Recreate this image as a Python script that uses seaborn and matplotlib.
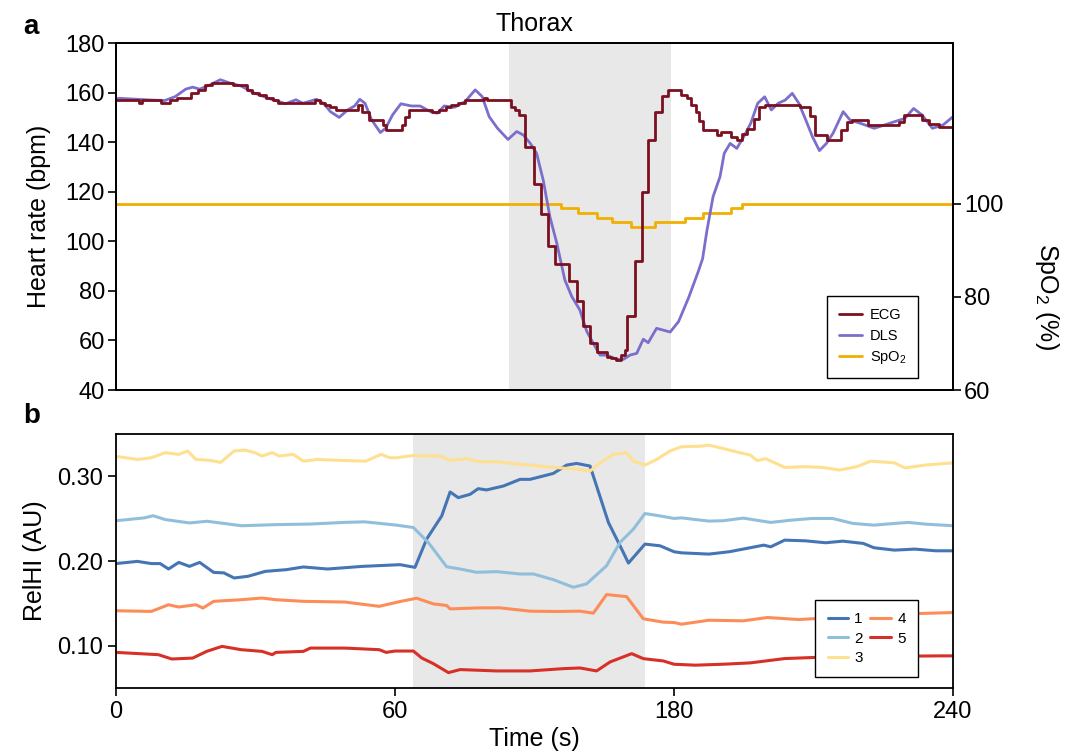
import seaborn as sns
import matplotlib.pyplot as plt
import numpy as np
import pandas as pd

sns.set_theme(style="ticks")
plt.rcParams['font.family'] = ['Liberation Sans', 'DejaVu Sans']
plt.rcParams['mathtext.fontset'] = 'custom'
plt.rcParams['mathtext.rm'] = 'Liberation Sans'
plt.rcParams['mathtext.it'] = 'Liberation Sans:italic'
plt.rcParams['mathtext.bf'] = 'Liberation Sans:bold'
for k in ['text.color', 'axes.labelcolor', 'xtick.color', 'ytick.color']:
    plt.rcParams[k] = 'black'

# ---- panel a: heart rate (thorax) ----
ecg_t = [0, 6.5, 7.5, 13, 15.5, 17.5, 21.5, 23.5, 25.5, 27.5, 33.5, 37.5, 39, 41, 43, 45,
         46.5, 57, 58.5, 60, 61.5, 63, 69.5, 70.5, 72.5, 76.5, 77.5, 82, 83, 84, 90.5, 92.5,
         94.5, 96, 98, 100, 105.5, 106.5, 113.2, 114.5, 115.5, 117.2, 119.8, 121.8, 124, 126,
         130, 132.2, 134, 136, 137.8, 140.8, 142, 143.5, 144.8, 146, 146.6, 148.9, 150.9,
         152.6, 154.6, 156.5, 158.4, 162, 163.8, 165, 166.2, 167.3, 168.2, 172.3, 173.6,
         176.3, 178, 179.5, 181, 182.8, 184.5, 186, 196, 199, 200.5, 204, 208, 209.5, 211,
         215.6, 224.5, 226, 231, 233, 236, 240]
ecg_hr = [157, 156, 157, 156, 157, 158, 160, 161, 163, 164, 163, 161, 160, 159, 158, 157,
          156, 157, 156, 155, 154, 153, 155, 152, 149, 147, 145, 147, 150, 153, 152, 153,
          154, 155, 156, 157, 158, 157, 154, 153, 151, 138, 123, 111, 98, 91,
          84, 76, 66, 59, 55.5, 53.5, 52.8, 52, 54, 56, 70, 92, 120,
          141, 152, 158.5, 161, 159, 158, 155, 152, 148.5, 145, 143, 144,
          142, 141, 143.5, 145.5, 149.5, 154, 155, 154, 150.5, 143, 141, 145, 148, 149,
          147, 148, 151, 149, 147.5, 146, 146]

dls_t = [0, 1, 6.1, 10.1, 14, 17, 20, 22, 24, 26.9, 29.9, 32.8, 35.8, 39.7, 43.7, 46.7,
         48.6, 51.6, 53.6, 57.5, 59.5, 61.5, 64, 66.4, 68.4, 69.9, 71.4, 73.3, 75.8, 77.3,
         79.3, 81.7, 84.7, 87.2, 90.2, 92.1, 94.1, 97.1, 100.1, 103, 105, 107, 109.4, 112.4,
         114.9, 116.8, 118.8, 120.6, 122.5, 124.4, 126.4, 128.7, 130.7, 133, 135, 137.4,
         138.8, 140.7, 143.6, 145.5, 147.4, 149.3, 151.2, 152.6, 155, 158.9, 161.3, 164.2,
         167, 168.2, 169.4, 171.2, 173.2, 174.4, 176.1, 178, 180, 182, 184, 186, 187.9,
         189.9, 191.9, 193.9, 195.8, 197.8, 199.7, 201.7, 203.7, 205.6, 208.5, 210.5, 213.5,
         217.4, 220.3, 223.3, 226.2, 228.7, 231.1, 234.1, 237.1, 240]
dls_hr = [157.5, 157.7, 157.3, 157, 156.8, 158.4, 161.4, 162.2, 161.4, 163.1, 165.2, 163.8,
          162.7, 159.8, 157.7, 156.4, 155.5, 157.1, 155.7, 157.3, 155.7, 152.3, 150, 153,
          154.6, 157.3, 155.7, 149, 143.9, 145.6, 151, 155.5, 154.6, 154.6, 152.3, 151.7,
          154.6, 154.1, 156.4, 161.1, 158.4, 150.3, 145.6, 141.1, 144.3, 142.9, 139.5,
          135.5, 124.7, 110, 99.2, 84.4, 77.7, 72.3, 63.6, 57.5, 54.1, 54.1, 52.4, 52.4,
          54.1, 54.8, 60.5, 59.1, 64.9, 63.4, 67.6, 77.3, 88, 93, 104, 118, 126.1, 135.5,
          139.5, 137.5, 142.2, 147.6, 155.7, 158.3, 153, 155.7, 157, 159.7, 155.7, 148.9,
          142.2, 136.6, 139.5, 143.6, 152.3, 148.9, 147.6, 145.6, 146.9, 148.3, 149.6,
          153.6, 151, 145.6, 146.9, 150.3]

spo2_t = [0, 127.5, 132.5, 137.8, 142.1, 147.8, 154.5, 163.1, 168.4, 176.3, 179.6, 240]
spo2_v = [100, 99, 98, 97, 96, 95, 96, 97, 98, 99, 100, 100]

shade_a = (112.8, 159.0)

# ---- panel b: RelHI per channel ----
t1 = [0, 4.6, 7.6, 9.5, 11.3, 13.5, 15.8, 18, 21, 23.2, 25.4, 28.4, 32.1, 36.6, 40.3, 45.5,
      53, 58.2, 62.2, 68.6, 73.6, 80.1, 83.7, 87.2, 92.3, 95.8, 99.4, 106.6, 113.8, 118.1,
      128.1, 133.8, 138.1, 143.9, 146.7, 151.8, 156.8, 160.4, 167.5, 174, 180, 181.6, 187.5,
      191.9, 195.6, 199.3, 200.8, 203.8, 208.2, 212.6, 216.3, 220.7, 223, 227.4, 231.8,
      236.3, 240]
v1 = [0.197, 0.1996, 0.197, 0.197, 0.1906, 0.1984, 0.1937, 0.1984, 0.1866, 0.186, 0.180,
      0.182, 0.1878, 0.1898, 0.193, 0.1906, 0.1937, 0.195, 0.1957, 0.1925, 0.2259, 0.2533,
      0.2816, 0.2749, 0.2788, 0.2855, 0.284, 0.2886, 0.2965, 0.2965, 0.3035, 0.3133, 0.3153,
      0.3122, 0.2886, 0.2455, 0.218, 0.1976, 0.22, 0.218, 0.211, 0.2097, 0.2082, 0.211,
      0.2149, 0.2188, 0.2168, 0.2247, 0.2239, 0.2216, 0.2235, 0.2208, 0.2157, 0.2129,
      0.2141, 0.2121, 0.2121]

t2 = [0, 6.1, 8, 10.6, 15.8, 19.6, 27, 34.4, 41.8, 49.3, 53.5, 60.7, 67.9, 74.3, 82.2, 88,
      95.1, 103.7, 113.8, 119.5, 128.1, 136.7, 142.4, 151, 156.8, 162.5, 167.5, 174, 180,
      181.6, 184.6, 187.5, 190.5, 194.9, 200.8, 205.2, 209.7, 214.1, 218.5, 223, 227.4,
      230.4, 234.1, 240]
v2 = [0.2476, 0.251, 0.2535, 0.249, 0.245, 0.247, 0.2417, 0.243, 0.2437, 0.2457, 0.2463,
      0.2424, 0.2396, 0.222, 0.1933, 0.1906, 0.1867, 0.1875, 0.1847, 0.1847, 0.178, 0.169,
      0.173, 0.1945, 0.222, 0.2376, 0.2561, 0.2533, 0.2503, 0.251, 0.249, 0.2472, 0.2476,
      0.2507, 0.2456, 0.2483, 0.2503, 0.2503, 0.2444, 0.2424, 0.2444, 0.2456, 0.2436, 0.2417]

t3 = [0, 4.6, 7.6, 10.6, 13.5, 15.4, 17.2, 20.2, 22.5, 25.4, 27.7, 29.9, 31.4, 33.6, 35.1,
      38.1, 40.3, 43.3, 47.7, 53.7, 57, 58.9, 60.7, 67.9, 79.4, 83.7, 90.8, 96.6, 103.7,
      110.9, 118.1, 125.2, 133.8, 139.6, 143.9, 148.2, 153.9, 159.6, 162.5, 167.5, 172.5,
      178.3, 181.6, 186, 187.5, 190.5, 193.4, 196.4, 197.9, 199.7, 203.8, 208.2, 211.9,
      215.6, 219.3, 222.3, 227.4, 229.7, 234.1, 240]
v3 = [0.3236, 0.320, 0.322, 0.328, 0.326, 0.330, 0.320, 0.319, 0.3165, 0.330, 0.331, 0.328,
      0.324, 0.328, 0.324, 0.326, 0.318, 0.320, 0.319, 0.318, 0.326, 0.322, 0.322, 0.3247,
      0.324, 0.319, 0.3208, 0.3173, 0.3173, 0.315, 0.3133, 0.3114, 0.3094, 0.3082, 0.3063,
      0.316, 0.326, 0.3278, 0.318, 0.3133, 0.320, 0.330, 0.335, 0.3358, 0.337, 0.333,
      0.329, 0.3252, 0.3185, 0.321, 0.3106, 0.3114, 0.3106, 0.3075, 0.3114, 0.318, 0.316,
      0.310, 0.3134, 0.316]

t4 = [0, 7.6, 11.3, 13.5, 17.2, 18.7, 21, 26.9, 31.4, 34.4, 40.3, 49.2, 56.6, 62.2, 69.3,
      76.5, 82.2, 83.7, 96.6, 105.2, 118.1, 129.5, 139.6, 145.3, 151, 159.6, 166.8, 175.4,
      180, 181.6, 187.5, 194.9, 200.1, 206.8, 213.4, 220, 226, 237.8, 240]
v4 = [0.1413, 0.1405, 0.1484, 0.1457, 0.1484, 0.1445, 0.1524, 0.1543, 0.1563, 0.1543,
      0.1524, 0.1516, 0.1465, 0.1522, 0.1561, 0.1494, 0.1475, 0.1435, 0.1447, 0.1447,
      0.1408, 0.1404, 0.1408, 0.1384, 0.1604, 0.158, 0.1318, 0.1278, 0.1274, 0.1254,
      0.1301, 0.1294, 0.1333, 0.1309, 0.1329, 0.135, 0.137, 0.1388, 0.1392]

t5 = [0, 9.1, 12, 16.5, 19.5, 22.8, 26.9, 31.4, 33.6, 34.4, 40.3, 41.8, 49.2, 56.6, 58.1, 60,
      67.9, 71.5, 76.5, 83, 88, 103.7, 118.1, 132.4, 139.6, 146.7, 152.5, 161.8, 166.8,
      175.4, 180, 184.6, 190.5, 196.4, 203.8, 213.4, 220, 226, 237.8, 240]
v5 = [0.0921, 0.0894, 0.0843, 0.0854, 0.0933, 0.0992, 0.0953, 0.0933, 0.0894, 0.0921,
      0.0933, 0.0972, 0.0972, 0.0953, 0.0921, 0.0937, 0.0937, 0.0855, 0.0788, 0.0682,
      0.0718, 0.0702, 0.0702, 0.0729, 0.0737, 0.0702, 0.0808, 0.0906, 0.0847, 0.082,
      0.0781, 0.077, 0.0781, 0.0797, 0.0848, 0.0868, 0.087, 0.0875, 0.088, 0.088]

channels = ['1', '2', '3', '4', '5']
ch_colors = ['#4575b4', '#91bfdb', '#fee090', '#fc8d59', '#d73027']
shade_b = (67.8, 167.5)
time_ticks = [0, 60, 180, 240]
time_knots = [0, 60, 180, 240]  # tick times placed evenly along the axis

fig = plt.figure(figsize=(10.69, 7.55), dpi=100)

# panel a
ax = fig.add_axes([0.1085, 0.4834, 0.783, 0.4596])
ax2 = ax.twinx()
ax.set_zorder(ax2.get_zorder() + 1)
ax.patch.set_visible(False)
ax2.axvspan(*shade_a, color='#e8e8e8', lw=0, zorder=0)

sns.lineplot(x=spo2_t, y=spo2_v, ax=ax2, color='#f0b000', lw=2, drawstyle='steps-post',
             estimator=None, sort=False, label='SpO$_2$')
sns.lineplot(x=dls_t, y=dls_hr, ax=ax, color='#7b6fcc', lw=2, estimator=None, sort=False,
             label='DLS')
sns.lineplot(x=ecg_t, y=ecg_hr, ax=ax, color='#7a1020', lw=2, drawstyle='steps-post',
             estimator=None, sort=False, label='ECG')

h1, l1 = ax.get_legend_handles_labels()
h2, l2 = ax2.get_legend_handles_labels()
ax2.get_legend().remove()
leg = ax.legend([h1[1], h1[0], h2[0]], [l1[1], l1[0], l2[0]], loc='lower right',
                bbox_to_anchor=(0.958, 0.035), fontsize=10.5, fancybox=False,
                edgecolor='black', framealpha=1, handlelength=1.6, handletextpad=0.5,
                labelspacing=0.45, borderpad=0.8, borderaxespad=0)
leg.get_frame().set_linewidth(1.0)

ax.set_xlim(0, 240)
ax.set_ylim(40, 180)
ax.set_yticks(np.arange(40, 181, 20))
ax2.set_ylim(60, 134.5)
ax2.set_yticks([60, 80, 100])
ax.tick_params(axis='x', bottom=False, labelbottom=False)
ax.tick_params(axis='y', labelsize=17, length=6, width=1.2, direction='out', pad=2)
ax2.tick_params(axis='y', labelsize=17, length=6, width=1.2, direction='out', pad=2)
ax.set_ylabel('Heart rate (bpm)', fontsize=18, labelpad=10)
ax2.set_ylabel('SpO$_2$ (%)', fontsize=18, rotation=270, va='center')
ax2.yaxis.set_label_coords(1.112, 0.27)
ax.set_title('Thorax', fontsize=18, pad=9)
for a in (ax, ax2):
    for s in a.spines.values():
        s.set_color('black')
        s.set_linewidth(1.3)

# panel b
bx = fig.add_axes([0.1085, 0.0887, 0.783, 0.3364])
bx.set_xscale('function', functions=(lambda t: np.interp(t, time_knots, [0, 1, 2, 3]),
                                     lambda u: np.interp(u, [0, 1, 2, 3], time_knots)))
bx.axvspan(*shade_b, color='#e8e8e8', lw=0, zorder=0)

series = [(t1, v1), (t2, v2), (t3, v3), (t4, v4), (t5, v5)]
for name, col, (tt, vv) in zip(channels, ch_colors, series):
    sns.lineplot(x=tt, y=vv, ax=bx, color=col, lw=2.2, estimator=None, sort=False, label=name)

leg2 = bx.legend(loc='lower right', bbox_to_anchor=(0.958, 0.043), ncol=2, fontsize=11,
                 fancybox=False, edgecolor='black', framealpha=1, handlelength=1.35,
                 handletextpad=0.4, labelspacing=0.35, columnspacing=0.5, borderpad=0.8,
                 borderaxespad=0)
leg2.get_frame().set_linewidth(1.0)

bx.set_xlim(0, 240)
bx.set_xticks(time_ticks)
bx.set_xticklabels([str(v) for v in time_ticks])
bx.set_ylim(0.05, 0.35)
bx.set_yticks([0.10, 0.20, 0.30])
bx.set_yticklabels(['0.10', '0.20', '0.30'])
bx.tick_params(labelsize=17, length=6, width=1.2, direction='out', pad=3)
bx.set_xlabel('Time (s)', fontsize=18, labelpad=3)
bx.set_ylabel('RelHI (AU)', fontsize=18, labelpad=8)
for s in bx.spines.values():
    s.set_color('black')
    s.set_linewidth(1.3)

fig.text(0.022, 0.955, 'a', fontsize=20, fontweight='bold')
fig.text(0.022, 0.44, 'b', fontsize=20, fontweight='bold')

fig.savefig('out.png', dpi=100)
